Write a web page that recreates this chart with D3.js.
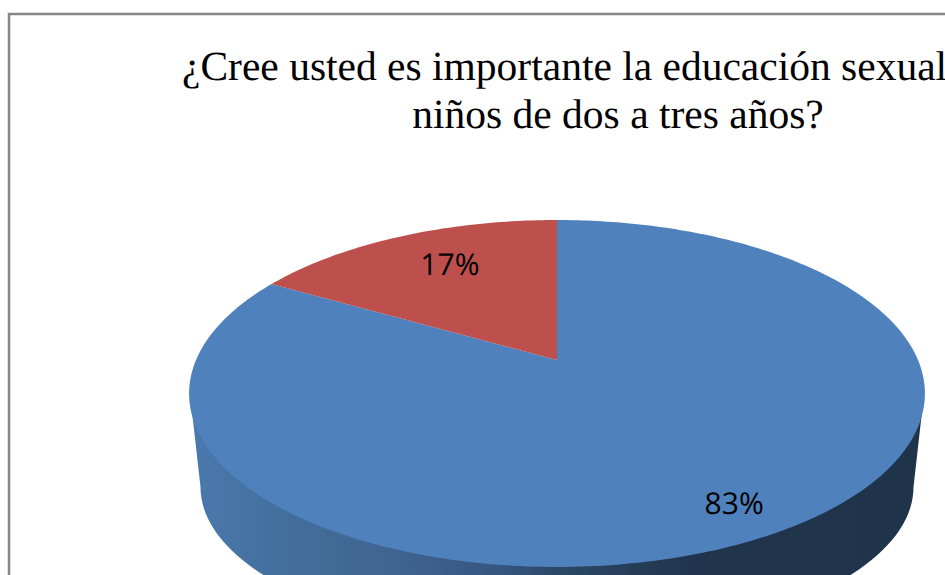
<!DOCTYPE html>
<html>
<head>
<meta charset="utf-8">
<script src="https://cdn.jsdelivr.net/npm/d3@7"></script>
<style>
  html, body { margin: 0; padding: 0; background: #fff; overflow: hidden; }
  text { text-rendering: geometricPrecision; }
</style>
</head>
<body>
<div id="chart"></div>
<script>
// data
let categories = ["Sí", "No"];
let values = [83.3, 16.7];
let labels = ["83%", "17%"];
let sliceColors = ["#4f81bd", "#bd4f4d"];
let titleLines = ["¿Cree usted es importante la educación sexual", "niños de dos a tres años?"];

let svgWidth = 945;
let svgHeight = 575;

let svg = d3.select("#chart")
  .append("svg")
  .attr("width", svgWidth)
  .attr("height", svgHeight)
  .style("display", "block");

// frame, runs off the right and bottom of the picture
svg.append("rect")
  .attr("x", 9)
  .attr("y", 14)
  .attr("width", 1000)
  .attr("height", 1000)
  .attr("fill", "#fff")
  .attr("stroke", "#868686")
  .attr("stroke-width", 2.5);

// title, the first line runs to the picture edge as in the original
svg.selectAll(".title")
  .data(titleLines)
  .enter()
  .append("text")
  .attr("class", "title")
  .attr("x", (d, i) => i == 0 ? 182 : 618)
  .attr("y", (d, i) => i == 0 ? 80 : 128)
  .attr("text-anchor", (d, i) => i == 0 ? "start" : "middle")
  .style("font-family", "'Liberation Serif'")
  .style("font-size", "41.5px")
  .attr("fill", "#000")
  .text(d => d);

// the tilted disc: the unit circle goes through a perspective map so
// the apex sits above the middle of the ellipse, like the 3D chart does
let cx = 557, cy = 360;
let persp = -0.193;
let scaleU = d3.scaleLinear().domain([-1, 1]).range([-361, 361]);
let scaleV = d3.scaleLinear().domain([-1, 1]).range([-167, 167]);

function project(angle, r) {
  let u = r * Math.sin(angle);
  let v = -r * Math.cos(angle);
  let w = 1 + persp * v;
  return [cx + scaleU(u) / w, cy + scaleV(v) / w];
}

let pie = d3.pie().sort(null).value(d => d);
let arcs = pie(values);
let line = d3.line();

function slicePath(a) {
  let pts = [[cx, cy]];
  let steps = Math.ceil((a.endAngle - a.startAngle) * 60);
  for (let i = 0; i <= steps; i++) {
    pts.push(project(a.startAngle + (a.endAngle - a.startAngle) * i / steps, 1));
  }
  return line(pts) + "Z";
}

// side wall
let defs = svg.append("defs");
let wallStops = [
  [0, "#4a79ae"], [0.1, "#44719f"], [0.29, "#3f638f"], [0.42, "#365681"],
  [0.5, "#2c4866"], [0.69, "#20344c"], [1, "#1f334b"]
];
let grad = defs.append("linearGradient")
  .attr("id", "wall")
  .attr("gradientUnits", "userSpaceOnUse")
  .attr("x1", 189).attr("x2", 925)
  .attr("y1", 0).attr("y2", 0);
grad.selectAll("stop")
  .data(wallStops)
  .enter()
  .append("stop")
  .attr("offset", d => d[0])
  .attr("stop-color", d => d[1]);

// top edge is a straight chord hidden under the disc, so no seam shows
let wallTopY = 394, wallTopRx = 367;
let wallBottom = {cy: 487, rx: 356.5, ry: 155};
let wallPts = [[cx - wallTopRx, wallTopY], [cx + wallTopRx, wallTopY]];
d3.range(0, 181, 2).forEach(t => {
  let a = t * Math.PI / 180;
  wallPts.push([cx + wallBottom.rx * Math.cos(a), wallBottom.cy + wallBottom.ry * Math.sin(a)]);
});

svg.append("path")
  .attr("d", line(wallPts) + "Z")
  .attr("fill", "url(#wall)");

svg.selectAll(".slice")
  .data(arcs)
  .enter()
  .append("path")
  .attr("class", "slice")
  .attr("d", slicePath)
  .attr("fill", (d, i) => sliceColors[i]);

// labels
let labelRadius = [0.85, 0.74];
let labelShift = [-2, 12];
svg.selectAll(".label")
  .data(arcs)
  .enter()
  .append("text")
  .attr("class", "label")
  .attr("x", (d, i) => project((d.startAngle + d.endAngle) / 2, labelRadius[i])[0] + labelShift[i])
  .attr("y", (d, i) => project((d.startAngle + d.endAngle) / 2, labelRadius[i])[1])
  .attr("dy", "0.35em")
  .attr("text-anchor", "middle")
  .style("font-family", "'Open Sans'")
  .style("font-size", "30px")
  .attr("fill", "#000")
  .text((d, i) => labels[i]);
</script>
</body>
</html>
